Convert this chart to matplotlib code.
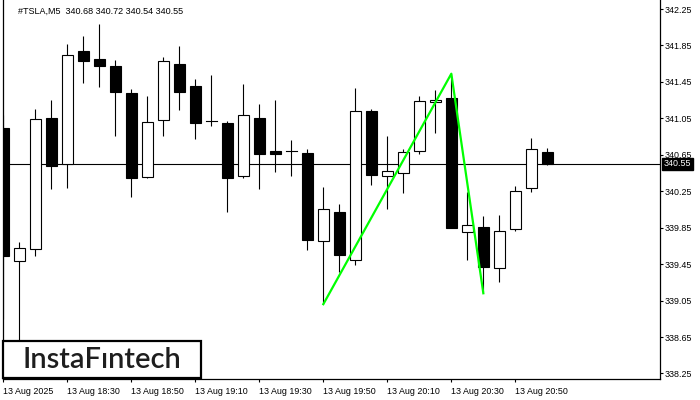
import matplotlib
matplotlib.use("Agg")
import matplotlib.pyplot as plt
from matplotlib.patches import Rectangle

# M5 candles, 13 Aug 2025
opens = [340.94, 339.48, 339.62, 341.05, 340.55, 341.79, 341.70, 341.63, 341.33, 340.41,
         341.03, 341.65, 341.41, 341.02, 341.00, 340.42, 341.05, 340.69, 340.69, 340.67,
         339.70, 340.02, 339.50, 341.13, 340.42, 340.45, 340.69, 341.23, 341.27, 339.80,
         339.86, 339.41, 339.83, 340.29, 340.68]
highs = [341.09, 339.69, 341.15, 341.25, 341.87, 341.95, 342.09, 341.69, 341.37, 341.30,
         341.72, 341.84, 341.48, 341.53, 341.02, 341.43, 341.21, 341.25, 340.81, 340.71,
         340.30, 340.11, 341.38, 341.15, 340.86, 340.71, 341.30, 341.36, 341.54, 340.24,
         339.98, 339.99, 340.31, 340.83, 340.72]
lows = [338.85, 338.60, 339.54, 340.27, 340.29, 341.44, 341.39, 340.86, 340.19, 340.40,
        340.86, 341.14, 340.82, 340.97, 340.02, 340.40, 340.27, 340.46, 340.42, 339.61,
        339.01, 339.36, 339.44, 340.32, 340.05, 340.23, 340.66, 340.89, 339.85, 339.49,
        339.14, 339.25, 339.81, 340.24, 340.54]
closes = [339.54, 339.63, 341.04, 340.53, 341.75, 341.68, 341.62, 341.34, 340.40, 341.01,
          341.68, 341.34, 341.00, 341.02, 340.39, 341.09, 340.66, 340.66, 340.69, 339.71,
          340.06, 339.55, 341.13, 340.43, 340.47, 340.68, 341.24, 341.25, 339.85, 339.88,
          339.42, 339.81, 340.25, 340.71, 340.55]

xtick_idx = [0, 4, 8, 12, 16, 20, 24, 28, 32]
xtick_labels = ["13 Aug 2025", "13 Aug 18:30", "13 Aug 18:50", "13 Aug 19:10", "13 Aug 19:30",
                "13 Aug 19:50", "13 Aug 20:10", "13 Aug 20:30", "13 Aug 20:50"]
yticks = [338.25, 338.65, 339.05, 339.45, 339.85, 340.25, 340.65, 341.05, 341.45, 341.85, 342.25]

# pattern line (double top style)
pattern_idx = [20, 28, 30]
pattern_price = [339.01, 341.54, 339.13]

last_price = 340.55
header = "#TSLA,M5  340.68 340.72 340.54 340.55"

plt.rcParams['font.family'] = ['Liberation Sans', 'DejaVu Sans']

W, H = 700, 400
fig = plt.figure(figsize=(7, 4), dpi=100)
ax = fig.add_axes([2.5 / W, 1 - 379 / H, 657 / W, 379 / H])

body_w = 0.67
for i, (o, h, l, c) in enumerate(zip(opens, highs, lows, closes)):
    ax.plot([i, i], [l, h], color='black', lw=0.8, zorder=2, solid_capstyle='butt')
    lo, hi = min(o, c), max(o, c)
    face = 'black' if c < o else 'white'
    if hi - lo < 0.005:
        ax.plot([i - body_w / 2, i + body_w / 2], [o, o], color='black', lw=0.8, zorder=3)
    else:
        ax.add_patch(Rectangle((i - body_w / 2, lo), body_w, hi - lo,
                               facecolor=face, edgecolor='black', lw=0.8, zorder=3))

ax.axhline(last_price, color='black', lw=0.8, zorder=1)
ax.plot(pattern_idx, pattern_price, color='#00ff00', lw=1.6, zorder=4)

ax.set_xlim(-0.05, 41.01)
ax.set_ylim(338.189, 342.349)

ax.yaxis.tick_right()
ax.set_yticks(yticks)
ax.set_yticklabels([f"{v:.2f}" for v in yticks], fontsize=6.4)
ax.set_xticks(xtick_idx)
ax.set_xticklabels(xtick_labels, fontsize=6.4, ha='left')
ax.tick_params(axis='both', length=2.5, width=0.8, pad=1.5, color='black')
ax.tick_params(axis='x', pad=3)

ax.spines['top'].set_visible(False)
for s in ['left', 'right', 'bottom']:
    ax.spines[s].set_linewidth(0.9)

ax.annotate(f"{last_price:.2f}", xy=(1.0, last_price), xycoords=('axes fraction', 'data'),
            xytext=(3, 0), textcoords='offset points', va='center', ha='left',
            fontsize=6.4, color='white',
            bbox=dict(boxstyle='square,pad=0.15', facecolor='black', edgecolor='black'))

fig.text(18 / W, 1 - 11 / H, header, fontsize=6.5, va='center', ha='left', color='black',
         bbox=dict(boxstyle='square,pad=0.2', facecolor='white', edgecolor='none'))

# logo box
fig.add_artist(Rectangle((3 / W, 1 - 378 / H), 198 / W, 37 / H, transform=fig.transFigure,
                         facecolor='white', edgecolor='black', lw=1.6, zorder=10))
fig.text(102 / W, 1 - 360 / H, "InstaF\u0131ntech", fontsize=21, family='Lato',
         weight='semibold', color='#1e1e1e', ha='center', va='center', zorder=11)

fig.savefig("out.png", dpi=100)
